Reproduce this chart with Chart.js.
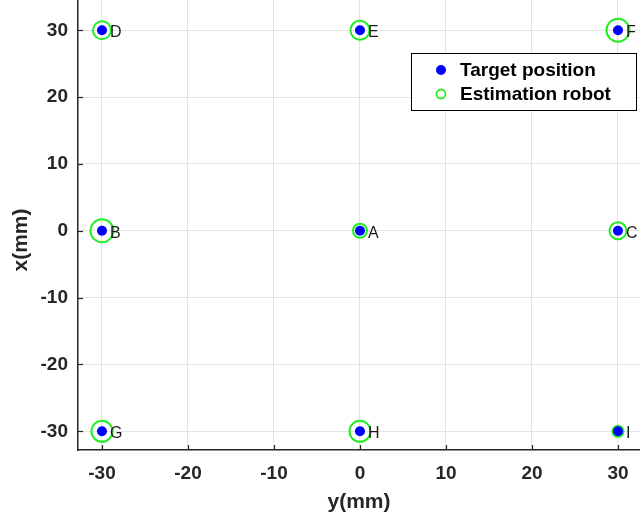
<!DOCTYPE html>
<html>
<head>
<meta charset="utf-8">
<script src="https://cdn.jsdelivr.net/npm/chart.js@4/dist/chart.umd.min.js"></script>
<style>
html,body{margin:0;padding:0;background:#fff;overflow:hidden;}
#wrap{position:relative;width:640px;height:521px;}
</style>
</head>
<body>
<div id="wrap"><canvas id="c" width="640" height="521"></canvas></div>
<script>
// ---- data ----
const pointLabels = ['A','B','C','D','E','F','G','H','I'];
const targetY = [0, -30, 30, -30, 0, 30, -30, 0, 30];   // horizontal axis: y(mm)
const targetX = [0, 0, 0, 30, 30, 30, -30, -30, -30];   // vertical axis: x(mm)
const estY = [0, -30, 30, -30, 0, 30, -30, 0, 30];
const estX = [0, 0, 0, 30, 30, 30, -30, -30, -30];
const estMarkerSize = [7, 11.5, 8.5, 9, 9.5, 11.5, 10.5, 10.5, 5.5];
const tickValues = [-30, -20, -10, 0, 10, 20, 30];
const legendLabels = ['Target position', 'Estimation robot'];
const axisTitles = {x: 'y(mm)', y: 'x(mm)'};

const FONT = 'Arial, "Liberation Sans", sans-serif';
const targetPts = targetY.map((v, i) => ({x: v, y: targetX[i]}));
const estPts = estY.map((v, i) => ({x: v, y: estX[i]}));

const decor = {
  id: 'decor',
  afterDatasetsDraw(chart) {
    const ctx = chart.ctx, xs = chart.scales.x, ys = chart.scales.y, ca = chart.chartArea;
    ctx.save();
    // inward ticks
    ctx.strokeStyle = '#262626'; ctx.lineWidth = 1.2;
    tickValues.forEach(v => {
      const px = Math.round(xs.getPixelForValue(v)) + 0.5;
      ctx.beginPath(); ctx.moveTo(px, ca.bottom); ctx.lineTo(px, ca.bottom - 5); ctx.stroke();
      const py = Math.round(ys.getPixelForValue(v)) + 0.5;
      ctx.beginPath(); ctx.moveTo(ca.left, py); ctx.lineTo(ca.left + 5, py); ctx.stroke();
    });
    // point letters
    ctx.fillStyle = '#1a1a1a';
    ctx.font = '16px ' + FONT;
    ctx.textAlign = 'left'; ctx.textBaseline = 'middle';
    pointLabels.forEach((l, i) => {
      const px = xs.getPixelForValue(targetY[i]);
      const py = ys.getPixelForValue(targetX[i]);
      ctx.fillText(l, px + 8, py + 2.5);
    });
    // y-axis title (rotated)
    ctx.save();
    ctx.translate(21, 240);
    ctx.rotate(-Math.PI / 2);
    ctx.textAlign = 'center'; ctx.textBaseline = 'middle';
    ctx.fillStyle = '#262626';
    ctx.font = 'bold 21px ' + FONT;
    ctx.fillText(axisTitles.y, 0, 0);
    ctx.restore();
    // legend box
    const bx = 411.5, by = 53.5, bw = 225, bh = 57;
    ctx.fillStyle = '#fff'; ctx.fillRect(bx, by, bw, bh);
    ctx.strokeStyle = '#000'; ctx.lineWidth = 1; ctx.strokeRect(bx, by, bw, bh);
    ctx.fillStyle = '#0000ff';
    ctx.beginPath(); ctx.arc(441, 70, 5, 0, Math.PI * 2); ctx.fill();
    ctx.strokeStyle = '#22ee22'; ctx.lineWidth = 1.8;
    ctx.beginPath(); ctx.arc(441, 94, 4.5, 0, Math.PI * 2); ctx.stroke();
    ctx.fillStyle = '#000';
    ctx.font = 'bold 19px ' + FONT;
    ctx.textAlign = 'left'; ctx.textBaseline = 'middle';
    ctx.fillText(legendLabels[0], 460, 71);
    ctx.fillText(legendLabels[1], 460, 95);
    ctx.restore();
  }
};

const zeroPad = s => { s.paddingTop = 0; s.paddingBottom = 0; s.paddingLeft = 0; s.paddingRight = 0; };

new Chart(document.getElementById('c'), {
  type: 'scatter',
  data: {
    datasets: [
      {
        label: legendLabels[0], data: targetPts,
        pointRadius: 5, pointHoverRadius: 5,
        backgroundColor: '#0000ff', borderColor: '#0000ff', borderWidth: 0
      },
      {
        label: legendLabels[1], data: estPts,
        pointRadius: estMarkerSize, pointHoverRadius: estMarkerSize,
        backgroundColor: 'rgba(0,0,0,0)', borderColor: '#22ee22', borderWidth: 2
      }
    ]
  },
  options: {
    responsive: false, animation: false, devicePixelRatio: 1,
    layout: {padding: 0, autoPadding: false},
    plugins: {legend: {display: false}, tooltip: {enabled: false}},
    scales: {
      x: {
        type: 'linear', min: -32.79, max: 32.56,
        afterBuildTicks: s => { s.ticks = tickValues.map(v => ({value: v})); },
        afterFit: s => { s.height = 71; zeroPad(s); },
        grid: {color: '#e3e3e3', lineWidth: 1, drawTicks: false},
        border: {color: '#262626', width: 1.5},
        ticks: {color: '#262626', font: {family: FONT, size: 19, weight: 'bold'}, padding: 12, maxRotation: 0},
        title: {display: true, text: axisTitles.x, color: '#262626', font: {family: FONT, size: 21, weight: 'bold'}, padding: {top: 0, bottom: 6}}
      },
      y: {
        type: 'linear', min: -32.8, max: 34.53,
        afterBuildTicks: s => { s.ticks = tickValues.map(v => ({value: v})); },
        afterFit: s => { s.width = 78; zeroPad(s); },
        grid: {color: '#e3e3e3', lineWidth: 1, drawTicks: false},
        border: {color: '#262626', width: 1.5},
        ticks: {color: '#262626', font: {family: FONT, size: 19, weight: 'bold'}, padding: 10},
        title: {display: false}
      }
    }
  },
  plugins: [decor]
});
</script>
</body>
</html>
